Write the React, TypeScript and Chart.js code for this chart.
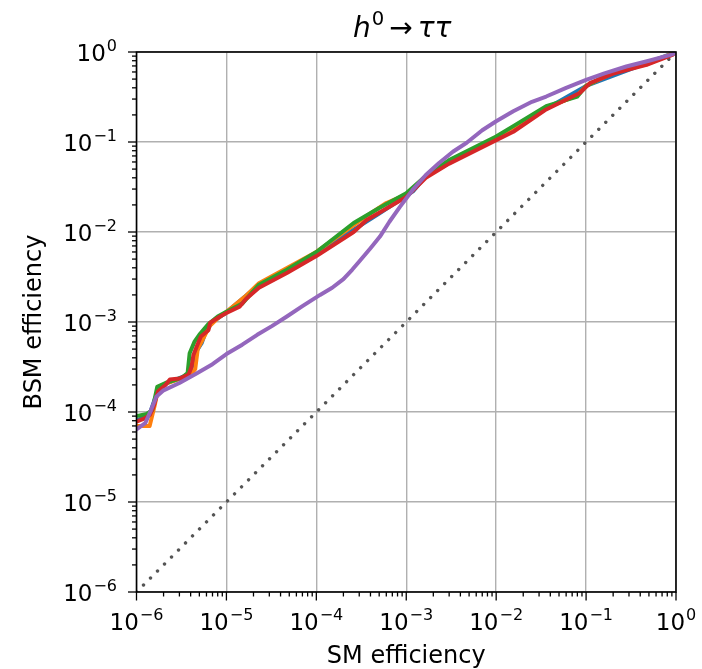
import React, { useEffect, useRef } from "react";
import { Chart, registerables } from "chart.js";

Chart.register(...registerables);

// ---- data ----
const BLUE_X = [1e-6, 1.4e-6, 1.6e-6, 1.8e-6, 2.2e-6, 3.4e-6, 4.0e-6, 4.5e-6, 5.3e-6, 5.8e-6, 7e-6, 1e-5, 2.3e-5, 1e-4, 5e-4, 1.2e-3, 1.65e-3, 1e-2, 0.1, 1];
const BLUE_Y = [8.0e-5, 9.5e-5, 1.4e-4, 1.8e-4, 2.1e-4, 2.5e-4, 2.8e-4, 4.5e-4, 5.8e-4, 7.5e-4, 1.0e-3, 1.28e-3, 2.6e-3, 5.8e-3, 1.6e-2, 2.85e-2, 4.2e-2, 0.113, 0.42, 1];

const ORANGE_X = [1e-6, 1.4e-6, 1.6e-6, 1.75e-6, 2.2e-6, 3.3e-6, 4.0e-6, 4.5e-6, 4.8e-6, 5.5e-6, 6.5e-6, 8e-6, 1e-5, 1.6e-5, 2.3e-5, 1e-4, 3.6e-4, 6e-4, 1e-3, 1.65e-3, 3e-3, 1e-2, 3.6e-2, 8e-2, 0.1, 0.2, 0.47, 1];
const ORANGE_Y = [7.0e-5, 7.0e-5, 1.2e-4, 1.9e-4, 2.1e-4, 2.4e-4, 2.6e-4, 3.0e-4, 5.0e-4, 6.5e-4, 9.0e-4, 1.1e-3, 1.3e-3, 1.9e-3, 2.7e-3, 6.0e-3, 1.5e-2, 2.1e-2, 2.6e-2, 4.2e-2, 6.2e-2, 0.112, 0.24, 0.33, 0.42, 0.59, 0.73, 1];

const GREEN_X = [1e-6, 1.3e-6, 1.5e-6, 1.7e-6, 2.1e-6, 3.2e-6, 3.7e-6, 3.9e-6, 4.4e-6, 5.1e-6, 6.3e-6, 8.0e-6, 1.0e-5, 1.5e-5, 2.3e-5, 4.7e-5, 1e-4, 2.6e-4, 5e-4, 1e-3, 1.65e-3, 3.0e-3, 1e-2, 1.55e-2, 3.6e-2, 8.0e-2, 0.1, 0.2, 0.47, 0.91, 1];
const GREEN_Y = [9.0e-5, 9.5e-5, 1.05e-4, 1.9e-4, 2.1e-4, 2.4e-4, 2.7e-4, 4.5e-4, 6.0e-4, 7.4e-4, 9.5e-4, 1.15e-3, 1.3e-3, 1.6e-3, 2.6e-3, 3.8e-3, 6.0e-3, 1.26e-2, 1.85e-2, 2.7e-2, 4.2e-2, 6.3e-2, 0.115, 0.15, 0.25, 0.32, 0.42, 0.6, 0.74, 0.94, 1];

const RED_X = [1e-6, 1.23e-6, 1.41e-6, 1.55e-6, 1.74e-6, 2.1e-6, 2.35e-6, 3.0e-6, 3.8e-6, 4.1e-6, 4.3e-6, 4.7e-6, 5.2e-6, 6.3e-6, 6.6e-6, 8.5e-6, 1.0e-5, 1.4e-5, 1.65e-5, 2.3e-5, 4.7e-5, 1e-4, 2.6e-4, 3.6e-4, 1e-3, 1.65e-3, 3.0e-3, 1e-2, 1.55e-2, 3.6e-2, 8.5e-2, 0.11, 0.2, 0.47, 0.91, 1];
const RED_Y = [7.8e-5, 8.5e-5, 9.3e-5, 1.15e-4, 1.7e-4, 2.0e-4, 2.3e-4, 2.35e-4, 2.6e-4, 3.2e-4, 4.3e-4, 5.4e-4, 6.9e-4, 8.1e-4, 9.8e-4, 1.15e-3, 1.26e-3, 1.48e-3, 1.8e-3, 2.4e-3, 3.5e-3, 5.4e-3, 1.0e-2, 1.35e-2, 2.45e-2, 4.0e-2, 5.75e-2, 0.105, 0.13, 0.23, 0.35, 0.45, 0.575, 0.72, 0.93, 1];

const PURPLE_X = [1e-6, 1.25e-6, 1.45e-6, 1.66e-6, 2.0e-6, 3.0e-6, 4.7e-6, 7e-6, 1e-5, 1.5e-5, 2.2e-5, 3.2e-5, 4.7e-5, 7e-5, 1.1e-4, 1.5e-4, 2.0e-4, 2.5e-4, 3.0e-4, 4.0e-4, 5.1e-4, 6.5e-4, 8.5e-4, 1.2e-3, 1.65e-3, 2.3e-3, 3.3e-3, 4.7e-3, 7e-3, 1e-2, 1.55e-2, 2.5e-2, 3.6e-2, 6e-2, 0.1, 0.16, 0.28, 0.5, 0.91, 1];
const PURPLE_Y = [6.4e-5, 7.5e-5, 1.05e-4, 1.48e-4, 1.74e-4, 2.1e-4, 2.7e-4, 3.4e-4, 4.4e-4, 5.6e-4, 7.2e-4, 9.0e-4, 1.15e-3, 1.5e-3, 2.0e-3, 2.4e-3, 3.0e-3, 3.8e-3, 4.7e-3, 6.6e-3, 8.9e-3, 1.3e-2, 1.9e-2, 3.0e-2, 4.3e-2, 5.8e-2, 7.8e-2, 9.8e-2, 0.135, 0.17, 0.22, 0.28, 0.32, 0.4, 0.49, 0.58, 0.69, 0.8, 0.94, 1];

const DIAG_X = [1e-6, 1];
const DIAG_Y = [1e-6, 1];

const MAJOR_TICKS = [1e-6, 1e-5, 1e-4, 1e-3, 1e-2, 1e-1, 1];
const TICK_EXPONENTS = ["\u22126", "\u22125", "\u22124", "\u22123", "\u22122", "\u22121", "0"];
const MINOR_MULTIPLIERS = [2, 3, 4, 5, 6, 7, 8, 9];

const X_TITLE = "SM efficiency";
const Y_TITLE = "BSM efficiency";

const FONT = "'DejaVu Sans', sans-serif";

const pts = (xs: number[], ys: number[]) => xs.map((x, i) => ({ x, y: ys[i] }));

const isMajor = (v: number) => MAJOR_TICKS.some((m) => Math.abs(v / m - 1) < 1e-6);

const allTicks = () => {
  const t: number[] = [];
  MAJOR_TICKS.forEach((m, i) => {
    t.push(m);
    if (i < MAJOR_TICKS.length - 1) MINOR_MULTIPLIERS.forEach((k) => t.push(m * k));
  });
  return t;
};

const decorPlugin = {
  id: "decor",
  afterDraw(chart: any) {
    const { ctx, chartArea } = chart;
    const xs = chart.scales.x;
    const ys = chart.scales.y;
    ctx.save();
    // spines
    ctx.strokeStyle = "#000";
    ctx.lineWidth = 1.6;
    ctx.strokeRect(chartArea.left, chartArea.top, chartArea.right - chartArea.left, chartArea.bottom - chartArea.top);
    // tick marks
    ctx.lineWidth = 1.3;
    allTicks().forEach((v) => {
      const len = isMajor(v) ? 8.5 : 4.5;
      const px = xs.getPixelForValue(v);
      ctx.beginPath();
      ctx.moveTo(px, chartArea.bottom);
      ctx.lineTo(px, chartArea.bottom + len);
      ctx.stroke();
      const py = ys.getPixelForValue(v);
      ctx.beginPath();
      ctx.moveTo(chartArea.left, py);
      ctx.lineTo(chartArea.left - len, py);
      ctx.stroke();
    });
    // tick labels (10 with superscript exponent)
    ctx.fillStyle = "#000";
    ctx.textBaseline = "alphabetic";
    ctx.textAlign = "left";
    const mainFont = `23px ${FONT}`;
    const supFont = `16px ${FONT}`;
    MAJOR_TICKS.forEach((v, i) => {
      ctx.font = mainFont;
      const w1 = ctx.measureText("10").width;
      ctx.font = supFont;
      const w2 = ctx.measureText(TICK_EXPONENTS[i]).width;
      const total = w1 + 1 + w2;
      // x axis
      const px = xs.getPixelForValue(v);
      let sx = px - total / 2;
      const by = chartArea.bottom + 37.5;
      ctx.font = mainFont;
      ctx.fillText("10", sx, by);
      ctx.font = supFont;
      ctx.fillText(TICK_EXPONENTS[i], sx + w1 + 1, by - 10);
      // y axis
      const py = ys.getPixelForValue(v);
      sx = chartArea.left - 19.5 - total;
      const byy = py + 8.5;
      ctx.font = mainFont;
      ctx.fillText("10", sx, byy);
      ctx.font = supFont;
      ctx.fillText(TICK_EXPONENTS[i], sx + w1 + 1, byy - 10);
    });
    // title: h^0 -> tau tau
    const italic = `italic 28px ${FONT}`;
    const normal = `28px ${FONT}`;
    const sup = `19.6px ${FONT}`;
    const parts = [
      { t: "h", f: italic, dy: 0, gap: 1 },
      { t: "0", f: sup, dy: -12, gap: 5 },
      { t: "\u2192", f: normal, dy: 0, gap: 5 },
      { t: "\u03c4\u03c4", f: italic, dy: 0, gap: 0 },
    ];
    let tw = 0;
    parts.forEach((p) => {
      ctx.font = p.f;
      tw += ctx.measureText(p.t).width + p.gap;
    });
    let cx = (chartArea.left + chartArea.right) / 2 - 4 - tw / 2;
    const baseY = 36.5;
    parts.forEach((p) => {
      ctx.font = p.f;
      ctx.fillText(p.t, cx, baseY + p.dy);
      cx += ctx.measureText(p.t).width + p.gap;
    });
    ctx.restore();
  },
};

export default function App() {
  const ref = useRef<HTMLCanvasElement | null>(null);
  useEffect(() => {
    document.body.style.margin = "0";
    const canvas = ref.current!;
    const mk = (label: string, xs: number[], ys: number[], color: string, order: number) => ({
      label,
      data: pts(xs, ys),
      borderColor: color,
      backgroundColor: color,
      borderWidth: 4,
      borderJoinStyle: "round",
      borderCapStyle: "round",
      pointRadius: 0,
      showLine: true,
      fill: false,
      tension: 0,
      order,
    });
    const chart = new Chart(canvas, {
      type: "scatter",
      data: {
        datasets: [
          mk("blue", BLUE_X, BLUE_Y, "#1f77b4", 4) as any,
          mk("orange", ORANGE_X, ORANGE_Y, "#ff7f0e", 3) as any,
          mk("green", GREEN_X, GREEN_Y, "#2ca02c", 2) as any,
          mk("red", RED_X, RED_Y, "#d62728", 1) as any,
          mk("purple", PURPLE_X, PURPLE_Y, "#9467bd", 0) as any,
          {
            label: "diagonal",
            data: pts(DIAG_X, DIAG_Y),
            borderColor: "#555555",
            backgroundColor: "#555555",
            borderWidth: 3.4,
            borderDash: [0.01, 9.9],
            borderCapStyle: "round",
            pointRadius: 0,
            showLine: true,
            fill: false,
            order: 5,
          } as any,
        ],
      },
      options: {
        animation: false,
        responsive: false,
        maintainAspectRatio: false,
        layout: { padding: { left: 0, right: 26, top: 52, bottom: 0 } },
        plugins: { legend: { display: false }, tooltip: { enabled: false }, title: { display: false } },
        scales: {
          x: {
            type: "logarithmic",
            min: 1e-6,
            max: 1,
            afterBuildTicks: (s: any) => {
              s.ticks = allTicks().map((v) => ({ value: v, major: isMajor(v) }));
            },
            afterFit: (s: any) => {
              s.height = 77;
            },
            ticks: { display: false },
            grid: {
              drawTicks: false,
              lineWidth: 1.4,
              color: (c: any) => (c.tick && isMajor(c.tick.value) ? "#b0b0b0" : "rgba(0,0,0,0)"),
            },
            border: { display: false },
            title: {
              display: true,
              text: X_TITLE,
              color: "#000",
              font: { family: FONT, size: 24, lineHeight: 1 },
              padding: { top: 0, bottom: 0 },
            },
          },
          y: {
            type: "logarithmic",
            min: 1e-6,
            max: 1,
            afterBuildTicks: (s: any) => {
              s.ticks = allTicks().map((v) => ({ value: v, major: isMajor(v) }));
            },
            afterFit: (s: any) => {
              s.width = 136.5;
            },
            ticks: { display: false },
            grid: {
              drawTicks: false,
              lineWidth: 1.4,
              color: (c: any) => (c.tick && isMajor(c.tick.value) ? "#b0b0b0" : "rgba(0,0,0,0)"),
            },
            border: { display: false },
            title: {
              display: true,
              text: Y_TITLE,
              color: "#000",
              font: { family: FONT, size: 24, lineHeight: 1 },
              padding: { top: 23, bottom: 0 },
            },
          },
        },
      },
      plugins: [decorPlugin],
    });
    return () => chart.destroy();
  }, []);
  return <canvas ref={ref} width={702} height={669} style={{ display: "block" }} />;
}
